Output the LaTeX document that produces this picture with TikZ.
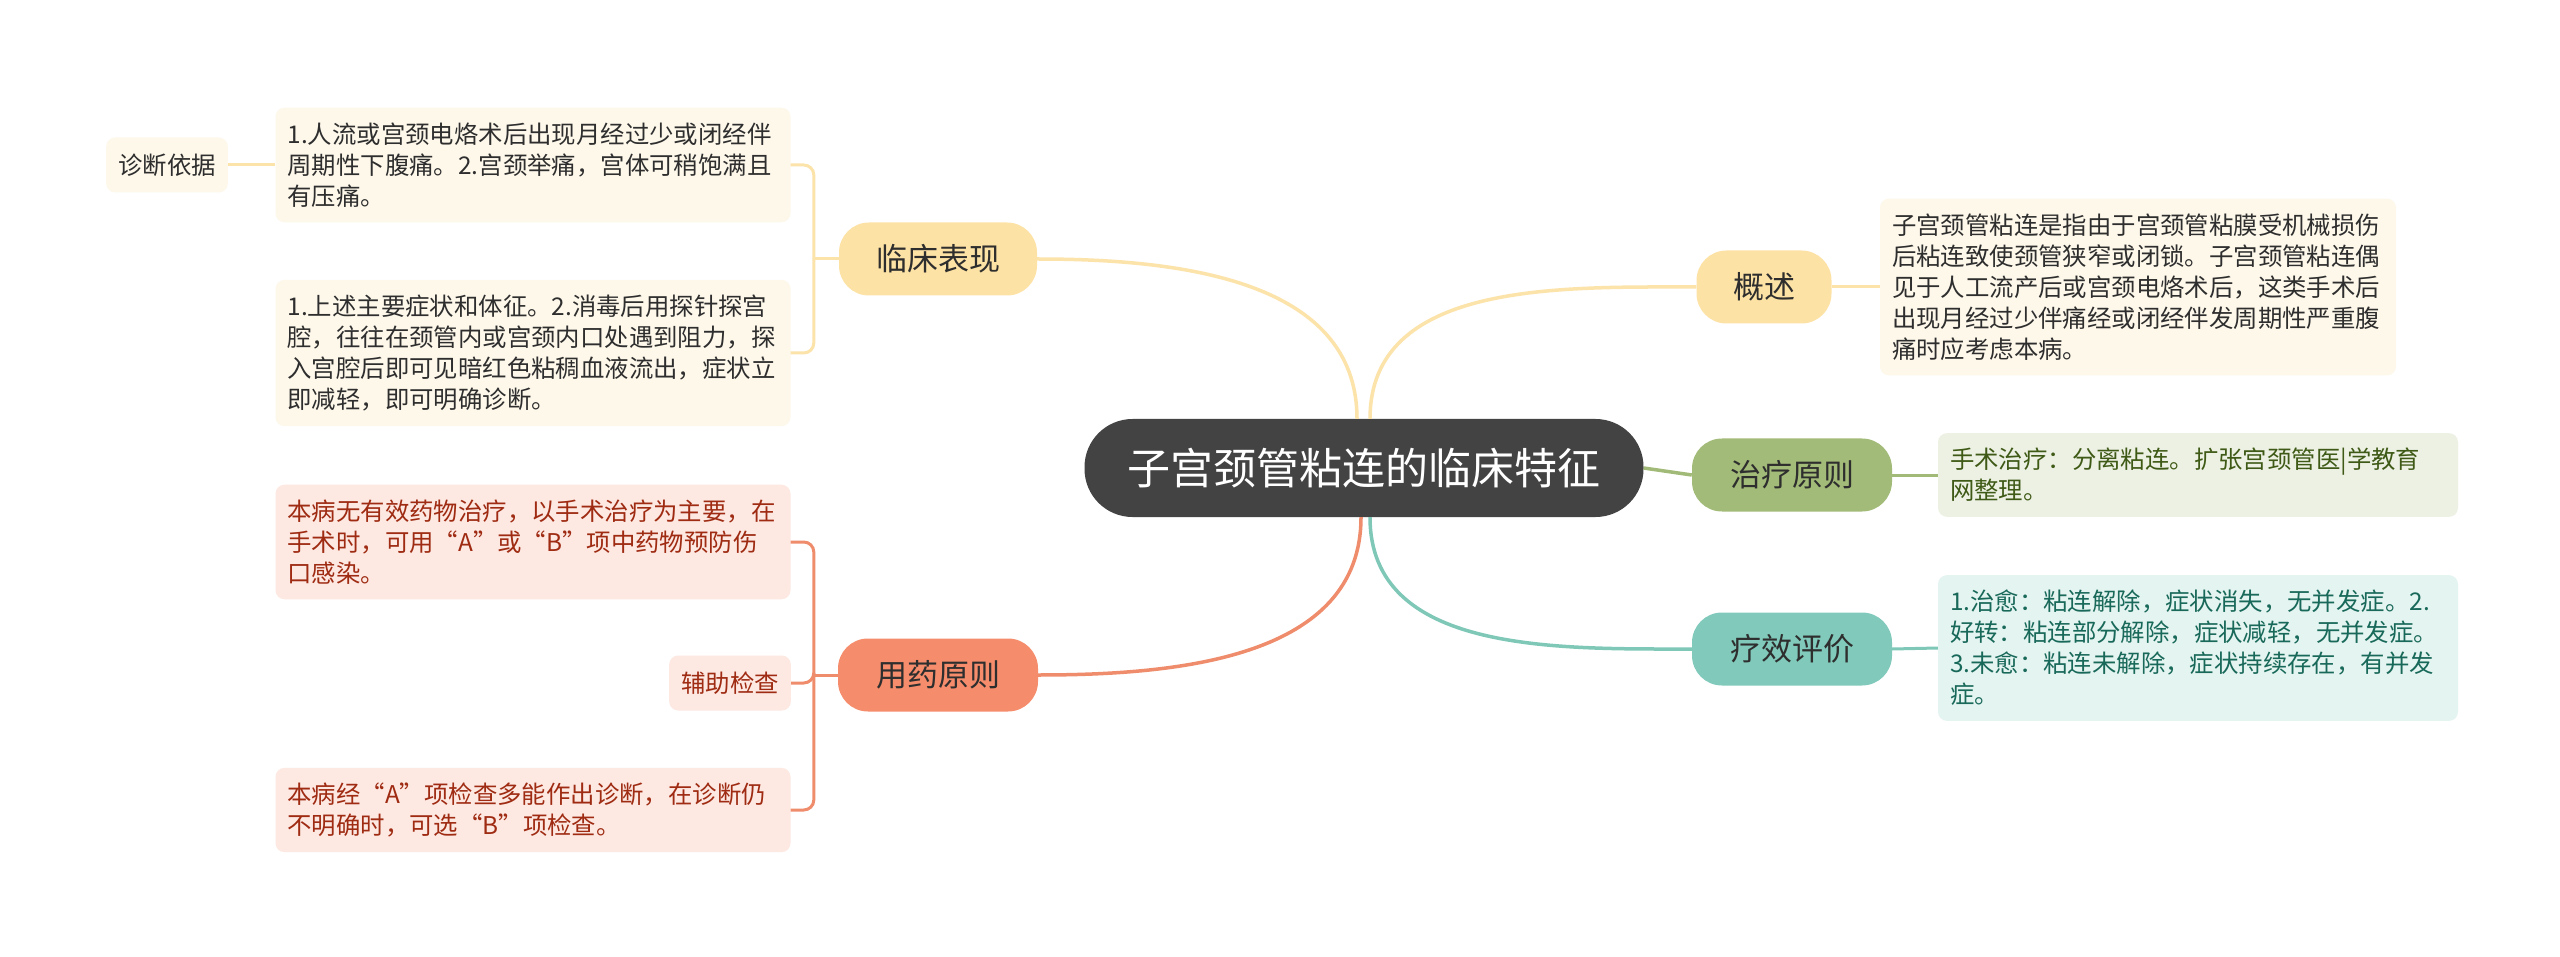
\documentclass[tikz,border=0pt]{standalone}
\usepackage{fontspec}
\setmainfont{Noto Sans CJK SC}
\newfontfamily\qfont[RawFeature=+fwid]{Noto Sans CJK SC}
\newcommand{\openq}{{\qfont “}}
\newcommand{\closeq}{{\qfont ”}}
\definecolor{rootc}{HTML}{434343}
\definecolor{yel}{HTML}{FDE2A5}
\definecolor{yelbox}{HTML}{FEF8EB}
\definecolor{yelline}{HTML}{FBE3AA}
\definecolor{sal}{HTML}{F58D6C}
\definecolor{salbox}{HTML}{FDE8E2}
\definecolor{salline}{HTML}{EF8C6C}
\definecolor{saltext}{HTML}{9E2B12}
\definecolor{grn}{HTML}{A3BB78}
\definecolor{grnbox}{HTML}{EDF1E4}
\definecolor{grnline}{HTML}{A2BA77}
\definecolor{grntext}{HTML}{3F5A16}
\definecolor{tl}{HTML}{81CABB}
\definecolor{tlbox}{HTML}{E4F4F0}
\definecolor{tlline}{HTML}{7FC8B8}
\definecolor{tltext}{HTML}{19695A}
\definecolor{ink}{HTML}{2E2E2E}
\begin{document}
\begin{tikzpicture}[x=1pt,y=-1pt,
  root/.style={fill=rootc,text=white,rounded corners=48pt,minimum width=559pt,minimum height=98pt,font=\fontsize{43}{52}\selectfont},
  topic/.style={rounded corners=30pt,minimum height=73pt,text=ink,font=\fontsize{31}{38}\selectfont},
  leaf/.style={rounded corners=9pt,text width=491pt,inner xsep=12pt,inner ysep=15pt,align=left,text=ink,font=\fontsize{24.4}{31}\selectfont},
  tag/.style={rounded corners=9pt,minimum height=55pt,inner xsep=12pt,text=ink,font=\fontsize{24.4}{31}\selectfont},
  link/.style={line width=3.5pt},
  sublink/.style={line width=3pt,rounded corners=10pt}]
\useasboundingbox[fill=white] (0,0) rectangle (2560,957);
% centre and main topics
\node[root] (root) at (1364,468) {子宫颈管粘连的临床特征};
\node[topic,fill=yel,minimum width=198pt] (lcbx) at (938,259) {临床表现};
\node[topic,fill=sal,minimum width=200pt] (yyyz) at (938,675) {用药原则};
\node[topic,fill=yel,minimum width=135pt] (gs) at (1764,287) {概述};
\node[topic,fill=grn,minimum width=200pt] (zlyz) at (1792,475) {治疗原则};
\node[topic,fill=tl,minimum width=200pt] (lxpj) at (1792,649) {疗效评价};
% left leaves
\node[leaf,fill=yelbox] (lc1) at (533,165) {1.人流或宫颈电烙术后出现月经过少或闭经伴\\周期性下腹痛。2.宫颈举痛，宫体可稍饱满且\\有压痛。};
\node[leaf,fill=yelbox] (lc2) at (533,353) {1.上述主要症状和体征。2.消毒后用探针探宫\\腔，往往在颈管内或宫颈内口处遇到阻力，探\\入宫腔后即可见暗红色粘稠血液流出，症状立\\即减轻，即可明确诊断。};
\node[tag,fill=yelbox] (zdyj) at (167,165) {诊断依据};
\node[leaf,fill=salbox,text=saltext] (yy1) at (533,542) {本病无有效药物治疗，以手术治疗为主要，在\\手术时，可用\openq A\closeq 或\openq B\closeq 项中药物预防伤\\口感染。};
\node[tag,fill=salbox,text=saltext] (fzjc) at (730,683) {辅助检查};
\node[leaf,fill=salbox,text=saltext] (yy2) at (533,810) {本病经\openq A\closeq 项检查多能作出诊断，在诊断仍\\不明确时，可选\openq B\closeq 项检查。};
% right leaves
\node[leaf,fill=yelbox,text width=492pt] (gs1) at (2138,287) {子宫颈管粘连是指由于宫颈管粘膜受机械损伤\\后粘连致使颈管狭窄或闭锁。子宫颈管粘连偶\\见于人工流产后或宫颈电烙术后，这类手术后\\出现月经过少伴痛经或闭经伴发周期性严重腹\\痛时应考虑本病。};
\node[leaf,fill=grnbox,text=grntext,text width=496pt] (zl1) at (2198,475) {手术治疗：分离粘连。扩张宫颈管医|学教育\\网整理。};
\node[leaf,fill=tlbox,text=tltext,text width=496pt] (lx1) at (2198,648) {1.治愈：粘连解除，症状消失，无并发症。2.\\好转：粘连部分解除，症状减轻，无并发症。\\3.未愈：粘连未解除，症状持续存在，有并发\\症。};
% connectors
\draw[link,yelline] ([xshift=-7pt]root.north) to[out=90,in=0] (lcbx.east);
\draw[link,yelline] ([xshift=6pt]root.north) to[out=90,in=180] (gs.west);
\draw[link,grnline] (root.east) -- (zlyz.west);
\draw[link,salline] ([xshift=-3pt]root.south) to[out=-90,in=0] (yyyz.east);
\draw[link,tlline] ([xshift=6pt]root.south) to[out=-90,in=180] (lxpj.west);
\coordinate (lcj) at ([xshift=-25pt]lcbx.west);
\draw[sublink,yelline] (lcbx.west) -- (lcj);
\draw[sublink,yelline] (lcj) |- (lc1.east);
\draw[sublink,yelline] (lcj) |- (lc2.east);
\draw[sublink,yelline] (lc1.west) -- (zdyj.east);
\coordinate (yyj) at ([xshift=-24pt]yyyz.west);
\draw[sublink,salline] (yyyz.west) -- (yyj);
\draw[sublink,salline] (yyj) |- (yy1.east);
\draw[sublink,salline] (yyj) |- (yy2.east);
\draw[sublink,salline] (yyj) |- (fzjc.east);
\draw[sublink,yelline] (gs.east) -- (gs1.west);
\draw[sublink,grnline] (zlyz.east) -- (zl1.west);
\draw[sublink,tlline] (lxpj.east) -- (lx1.west);
\end{tikzpicture}
\end{document}
